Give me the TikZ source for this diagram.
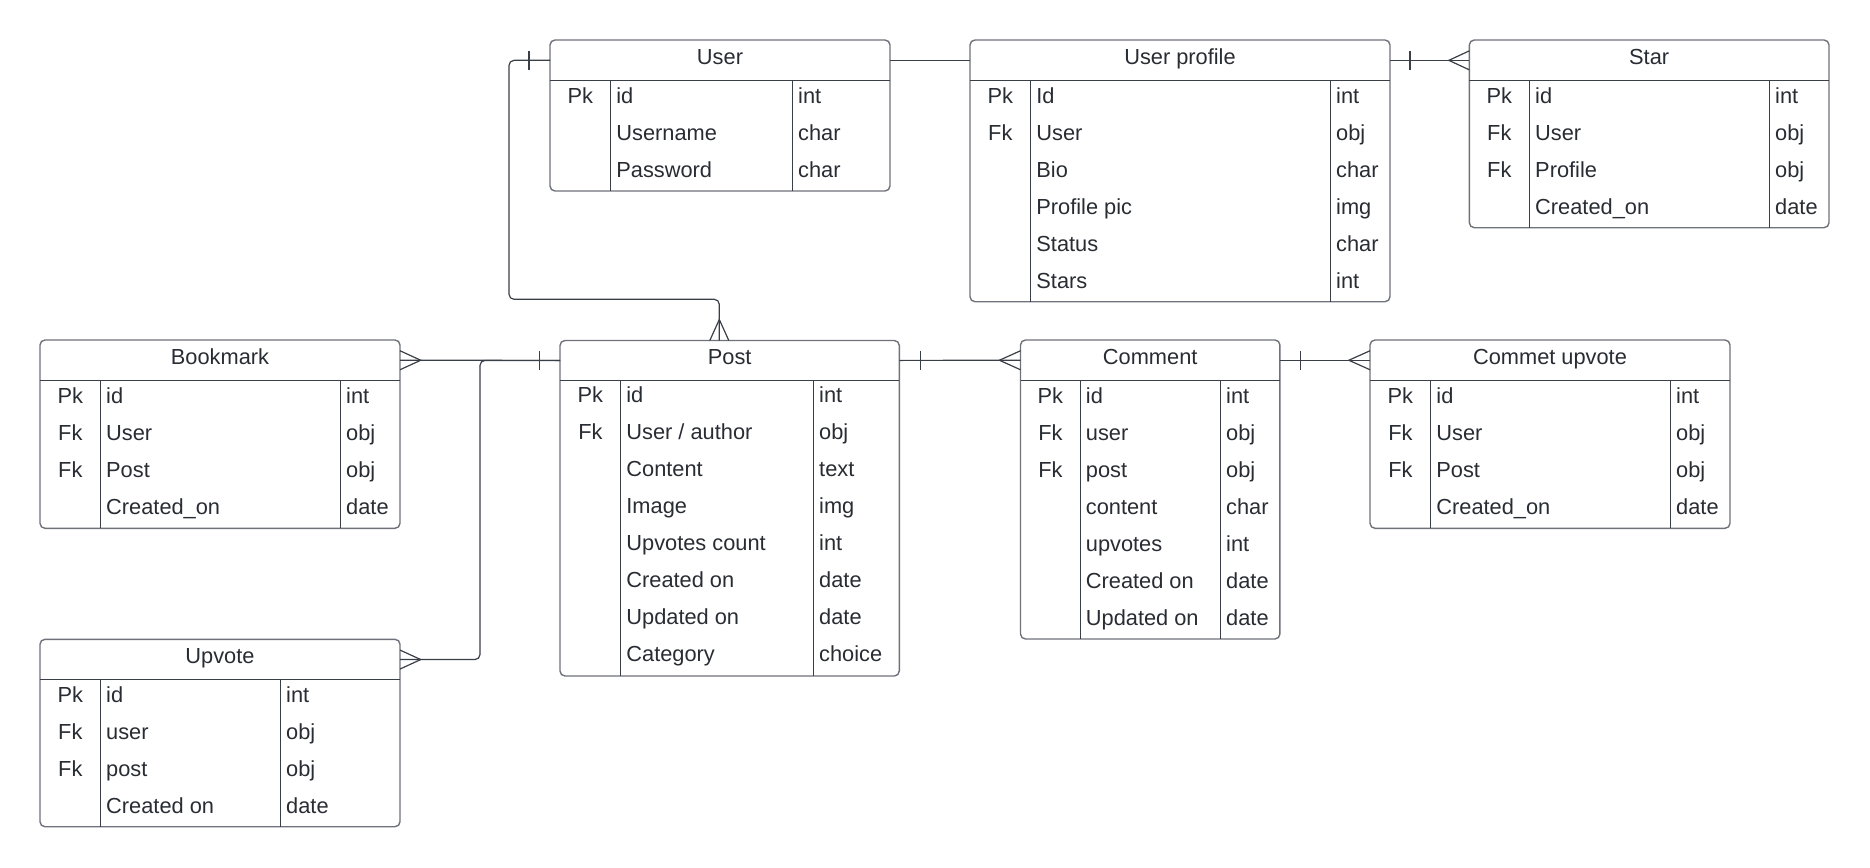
\documentclass[tikz,border=0pt]{standalone}
\usepackage{fontspec}
\setmainfont{Liberation Sans}
\definecolor{ink}{HTML}{282C33}
\definecolor{rim}{HTML}{6F727A}
\definecolor{rule}{HTML}{3A3E46}
\begin{document}
\begin{tikzpicture}[x=1pt, y=-1pt, font=\fontsize{21.8}{26}\selectfont, text=ink,
    tbl/.style={draw=rim, line width=1.4pt, rounded corners=5pt},
    sep/.style={draw=rule, line width=1.2pt},
    head/.style={inner sep=0, outer sep=0, text height=14pt, text depth=6pt},
    key/.style={anchor=base, inner sep=0, yshift=0.8pt},
    fld/.style={anchor=base west, inner sep=0, yshift=0.8pt},
    link/.style={draw=rule, line width=1.2pt}]
        \useasboundingbox (0,0) rectangle (1870,867);

        % User
        \draw[tbl] (550,40) rectangle (890,191);
        \draw[sep] (550,80.7) -- (890,80.7) (610.7,80.7) -- (610.7,191) (792.7,80.7) -- (792.7,191);
        \draw (720,60.35) node[head, minimum width=340, minimum height=40.7] (user) {User};
        \draw (580.3,104) node[key] {Pk} (616.2,104) node[fld] {id} (798,104) node[fld] {int};
        \draw (616.2,141) node[fld] {Username} (798,141) node[fld] {char};
        \draw (616.2,178) node[fld] {Password} (798,178) node[fld] {char};

        % User profile
        \draw[tbl] (970,40) rectangle (1390,301.7);
        \draw[sep] (970,80.7) -- (1390,80.7) (1030.7,80.7) -- (1030.7,301.7) (1330.7,80.7) -- (1330.7,301.7);
        \draw (1180,60.35) node[head, minimum width=420, minimum height=40.7] (prof) {User profile};
        \draw (1000.3,104) node[key] {Pk} (1036.2,104) node[fld] {Id} (1336,104) node[fld] {int};
        \draw (1000.3,141) node[key] {Fk} (1036.2,141) node[fld] {User} (1336,141) node[fld] {obj};
        \draw (1036.2,178) node[fld] {Bio} (1336,178) node[fld] {char};
        \draw (1036.2,215) node[fld] {Profile pic} (1336,215) node[fld] {img};
        \draw (1036.2,252) node[fld] {Status} (1336,252) node[fld] {char};
        \draw (1036.2,289) node[fld] {Stars} (1336,289) node[fld] {int};

        % Star
        \draw[tbl] (1469.3,40) rectangle (1829,227.7);
        \draw[sep] (1469.3,80.7) -- (1829,80.7) (1529.3,80.7) -- (1529.3,227.7) (1769.3,80.7) -- (1769.3,227.7);
        \draw (1649.15,60.35) node[head, minimum width=359.7, minimum height=40.7] (star) {Star};
        \draw (1499.3,104) node[key] {Pk} (1535,104) node[fld] {id} (1775,104) node[fld] {int};
        \draw (1499.3,141) node[key] {Fk} (1535,141) node[fld] {User} (1775,141) node[fld] {obj};
        \draw (1499.3,178) node[key] {Fk} (1535,178) node[fld] {Profile} (1775,178) node[fld] {obj};
        \draw (1535,215) node[fld] {Created\_on} (1775,215) node[fld] {date};

        % Bookmark
        \draw[tbl] (40,340) rectangle (400,528.3);
        \draw[sep] (40,380.5) -- (400,380.5) (100.7,380.5) -- (100.7,528.3) (340.7,380.5) -- (340.7,528.3);
        \draw (220,360.25) node[head, minimum width=360, minimum height=40.5] (book) {Bookmark};
        \draw (70.35,403.8) node[key] {Pk} (106,403.8) node[fld] {id} (346,403.8) node[fld] {int};
        \draw (70.35,440.8) node[key] {Fk} (106,440.8) node[fld] {User} (346,440.8) node[fld] {obj};
        \draw (70.35,477.8) node[key] {Fk} (106,477.8) node[fld] {Post} (346,477.8) node[fld] {obj};
        \draw (106,514.8) node[fld] {Created\_on} (346,514.8) node[fld] {date};

        % Post
        \draw[tbl] (560,340.5) rectangle (899.3,676);
        \draw[sep] (560,380.3) -- (899.3,380.3) (620.7,380.3) -- (620.7,676) (813.6,380.3) -- (813.6,676);
        \draw (729.65,360.4) node[head, minimum width=339.3, minimum height=39.8] (post) {Post};
        \draw (590.35,403.6) node[key] {Pk} (626.2,403.6) node[fld] {id} (819,403.6) node[fld] {int};
        \draw (590.35,440.6) node[key] {Fk} (626.2,440.6) node[fld] {User / author} (819,440.6) node[fld] {obj};
        \draw (626.2,477.6) node[fld] {Content} (819,477.6) node[fld] {text};
        \draw (626.2,514.6) node[fld] {Image} (819,514.6) node[fld] {img};
        \draw (626.2,551.6) node[fld] {Upvotes count} (819,551.6) node[fld] {int};
        \draw (626.2,588.6) node[fld] {Created on} (819,588.6) node[fld] {date};
        \draw (626.2,625.6) node[fld] {Updated on} (819,625.6) node[fld] {date};
        \draw (626.2,662.6) node[fld] {Category} (819,662.6) node[fld] {choice};
        \coordinate (postin) at (719.3,340.5);

        % Comment
        \draw[tbl] (1020.5,340) rectangle (1279.9,639);
        \draw[sep] (1020.5,380.5) -- (1279.9,380.5) (1080.2,380.5) -- (1080.2,639) (1220.6,380.5) -- (1220.6,639);
        \draw (1150.2,360.25) node[head, minimum width=259.4, minimum height=40.5] (comm) {Comment};
        \draw (1050.35,403.8) node[key] {Pk} (1085.7,403.8) node[fld] {id} (1226,403.8) node[fld] {int};
        \draw (1050.35,440.8) node[key] {Fk} (1085.7,440.8) node[fld] {user} (1226,440.8) node[fld] {obj};
        \draw (1050.35,477.8) node[key] {Fk} (1085.7,477.8) node[fld] {post} (1226,477.8) node[fld] {obj};
        \draw (1085.7,514.8) node[fld] {content} (1226,514.8) node[fld] {char};
        \draw (1085.7,551.8) node[fld] {upvotes} (1226,551.8) node[fld] {int};
        \draw (1085.7,588.8) node[fld] {Created on} (1226,588.8) node[fld] {date};
        \draw (1085.7,625.8) node[fld] {Updated on} (1226,625.8) node[fld] {date};

        % Commet upvote
        \draw[tbl] (1370,340) rectangle (1730,528.3);
        \draw[sep] (1370,380.5) -- (1730,380.5) (1430.7,380.5) -- (1430.7,528.3) (1670.7,380.5) -- (1670.7,528.3);
        \draw (1550,360.25) node[head, minimum width=360, minimum height=40.5] (cup) {Commet upvote};
        \draw (1400.35,403.8) node[key] {Pk} (1436.2,403.8) node[fld] {id} (1676,403.8) node[fld] {int};
        \draw (1400.35,440.8) node[key] {Fk} (1436.2,440.8) node[fld] {User} (1676,440.8) node[fld] {obj};
        \draw (1400.35,477.8) node[key] {Fk} (1436.2,477.8) node[fld] {Post} (1676,477.8) node[fld] {obj};
        \draw (1436.2,514.8) node[fld] {Created\_on} (1676,514.8) node[fld] {date};

        % Upvote
        \draw[tbl] (40,639.3) rectangle (400,826.7);
        \draw[sep] (40,679.8) -- (400,679.8) (100.7,679.8) -- (100.7,826.7) (280.7,679.8) -- (280.7,826.7);
        \draw (220,659.55) node[head, minimum width=360, minimum height=40.5] (upv) {Upvote};
        \draw (70.35,703.3) node[key] {Pk} (106,703.3) node[fld] {id} (286,703.3) node[fld] {int};
        \draw (70.35,740.3) node[key] {Fk} (106,740.3) node[fld] {user} (286,740.3) node[fld] {obj};
        \draw (70.35,777.3) node[key] {Fk} (106,777.3) node[fld] {post} (286,777.3) node[fld] {obj};
        \draw (106,814.3) node[fld] {Created on} (286,814.3) node[fld] {date};

        % relations
        \draw[link, rounded corners=5pt] (user.west) -| (509,299.3) -| (postin);
        \draw[link] ([xshift=-21pt]user.west) ++(0,-9.3) -- ++(0,18.6);
        \draw[link] ([xshift=-9.5pt]postin) -- ([yshift=21pt]postin) -- ([xshift=9.5pt]postin);

        \draw[link] (user.east) -- (prof.west);

        \draw[link] (prof.east) -- (star.west);
        \draw[link] ([xshift=20pt]prof.east) ++(0,-9.3) -- ++(0,18.6);
        \draw[link] ([yshift=9.5pt]star.west) -- ([xshift=-20.5pt]star.west) -- ([yshift=-9.5pt]star.west);

        \draw[link] (book.east) -- (post.west);
        \draw[link] ([yshift=9.5pt]book.east) -- ([xshift=20.7pt]book.east) -- ([yshift=-9.5pt]book.east);
        \draw[link] ([xshift=-20.7pt]post.west) ++(0,-9.3) -- ++(0,18.6);

        \draw[link, rounded corners=5pt] (upv.east) -| ([xshift=-80pt]post.west) -- (post.west);
        \draw[link] ([yshift=9.5pt]upv.east) -- ([xshift=20.7pt]upv.east) -- ([yshift=-9.5pt]upv.east);

        \draw[link] (post.east) -- (comm.west);
        \draw[link] ([xshift=21.4pt]post.east) ++(0,-9.3) -- ++(0,18.6);
        \draw[link] ([yshift=9.5pt]comm.west) -- ([xshift=-21.1pt]comm.west) -- ([yshift=-9.5pt]comm.west);

        \draw[link] (comm.east) -- (cup.west);
        \draw[link] ([xshift=20.3pt]comm.east) ++(0,-9.3) -- ++(0,18.6);
        \draw[link] ([yshift=9.5pt]cup.west) -- ([xshift=-21.2pt]cup.west) -- ([yshift=-9.5pt]cup.west);
    \end{tikzpicture}
\end{document}
